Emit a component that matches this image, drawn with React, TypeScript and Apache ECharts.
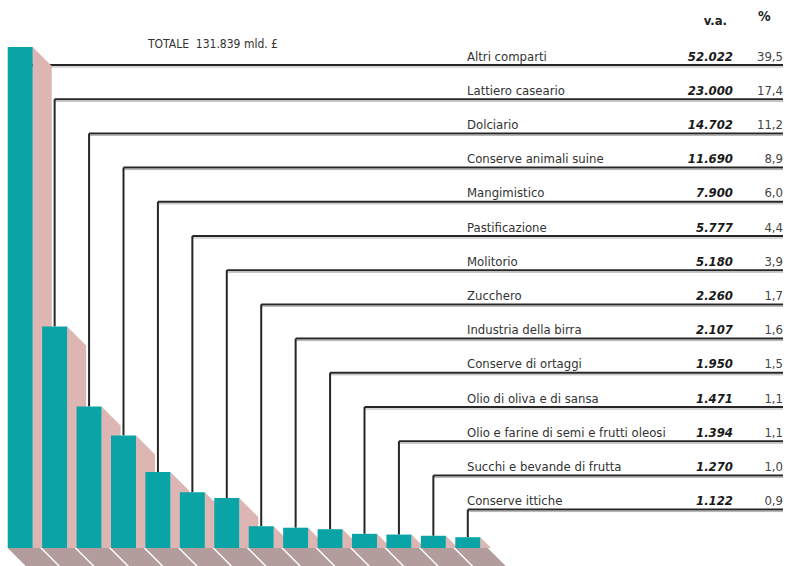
import React, { useEffect, useRef } from "react";
import * as echarts from "echarts";

const categories = [
  "Altri comparti",
  "Lattiero caseario",
  "Dolciario",
  "Conserve animali suine",
  "Mangimistico",
  "Pastificazione",
  "Molitorio",
  "Zucchero",
  "Industria della birra",
  "Conserve di ortaggi",
  "Olio di oliva e di sansa",
  "Olio e farine di semi e frutti oleosi",
  "Succhi e bevande di frutta",
  "Conserve ittiche",
];
const values = [52022, 23000, 14702, 11690, 7900, 5777, 5180, 2260, 2107, 1950, 1471, 1394, 1270, 1122];
const percents = ["39,5", "17,4", "11,2", "8,9", "6,0", "4,4", "3,9", "1,7", "1,6", "1,5", "1,1", "1,1", "1,0", "0,9"];
const totalLabel = "TOTALE  131.839 mld. £";
const headerValue = "v.a.";
const headerPct = "%";

const FONT = "'Liberation Sans Narrow', 'DejaVu Sans Condensed', 'Open Sans', sans-serif";

function fmt(v: number): string {
  const s = String(v);
  if (s.length <= 3) return s;
  return s.slice(0, s.length - 3) + "." + s.slice(s.length - 3);
}

export default function App() {
  const ref = useRef<HTMLDivElement>(null);
  useEffect(() => {
    if (!ref.current) return;
    const chart = echarts.init(ref.current, undefined, { renderer: "svg" });
    const ROW_Y0 = 65;
    const ROW_STEP = 34.2;
    const LINE_END = 783;
    const LABEL_X = 467;
    const VALUE_X = 733;
    const PCT_X = 783;
    const option: any = {
      animation: false,
      backgroundColor: "#ffffff",
      grid: { left: 3, width: 482, top: 28, bottom: 18 },
      xAxis: { type: "category", data: categories, show: false },
      yAxis: { type: "value", min: 0, max: 54000, show: false },
      graphic: [
        {
          type: "text",
          left: 148,
          top: 38,
          style: { text: totalLabel, font: `12px ${FONT}`, fill: "#333" },
        },
        {
          type: "text",
          right: 786 - 727,
          top: 14,
          style: { text: headerValue, font: `bold 13px ${FONT}`, fill: "#222" },
        },
        {
          type: "text",
          left: 758,
          top: 9,
          style: { text: headerPct, font: `bold 14px ${FONT}`, fill: "#222" },
        },
      ],
      series: [
        {
          type: "custom",
          data: values.map((v, i) => [i, v]),
          renderItem: (params: any, api: any) => {
            const i = params.dataIndex;
            const v = api.value(1);
            const top = api.coord([i, v]);
            const base = api.coord([i, 0]);
            const band = api.size([1, 0])[0];
            const w = 25;
            const cx = top[0];
            const x0 = cx - w / 2;
            const x1 = cx + w / 2;
            const ty = top[1];
            const by = base[1];
            const d = 19;
            const f = 18;
            const rowY = ROW_Y0 + i * ROW_STEP;
            const children: any[] = [];
            children.push({
              type: "line",
              shape: { x1: cx, y1: rowY, x2: LINE_END, y2: rowY },
              style: { stroke: "#262626", lineWidth: 2 },
            });
            children.push({
              type: "line",
              shape: { x1: cx, y1: rowY + 2, x2: LINE_END, y2: rowY + 2 },
              style: { stroke: "#b0b0b0", lineWidth: 1 },
            });
            if (ty > rowY) {
              children.push({
                type: "line",
                shape: { x1: cx, y1: rowY, x2: cx, y2: ty },
                style: { stroke: "#262626", lineWidth: 2 },
              });
            }
            const h = by - ty;
            const sidePts =
              h > d
                ? [[x1, ty], [x1 + d, ty + d], [x1 + d, by], [x1, by]]
                : [[x1, ty], [x1 + h, by], [x1, by]];
            children.push({
              type: "polygon",
              shape: { points: sidePts },
              style: { fill: "#ddb5b2" },
            });
            const fw = band - 2;
            children.push({
              type: "polygon",
              shape: { points: [[x0, by], [x0 + fw, by], [x0 + fw + f, by + f], [x0 + f, by + f]] },
              style: { fill: "#b39d9c" },
            });
            children.push({
              type: "rect",
              shape: { x: x0, y: ty, width: w, height: h },
              style: { fill: "#0aa3a6" },
            });
            children.push({
              type: "text",
              x: LABEL_X,
              y: rowY - 9,
              style: {
                text: categories[i],
                font: `13px ${FONT}`,
                fill: "#333",
                verticalAlign: "middle",
                align: "left",
              },
            });
            children.push({
              type: "text",
              x: VALUE_X,
              y: rowY - 9,
              style: {
                text: fmt(values[i]),
                font: `italic bold 13px ${FONT}`,
                fill: "#1a1a1a",
                verticalAlign: "middle",
                align: "right",
              },
            });
            children.push({
              type: "text",
              x: PCT_X,
              y: rowY - 9,
              style: {
                text: percents[i],
                font: `13px ${FONT}`,
                fill: "#444",
                verticalAlign: "middle",
                align: "right",
              },
            });
            return { type: "group", children };
          },
        },
      ],
    };
    chart.setOption(option);
    return () => chart.dispose();
  }, []);
  return <div ref={ref} style={{ position: "fixed", left: 0, top: 0, width: 786, height: 566 }} />;
}
